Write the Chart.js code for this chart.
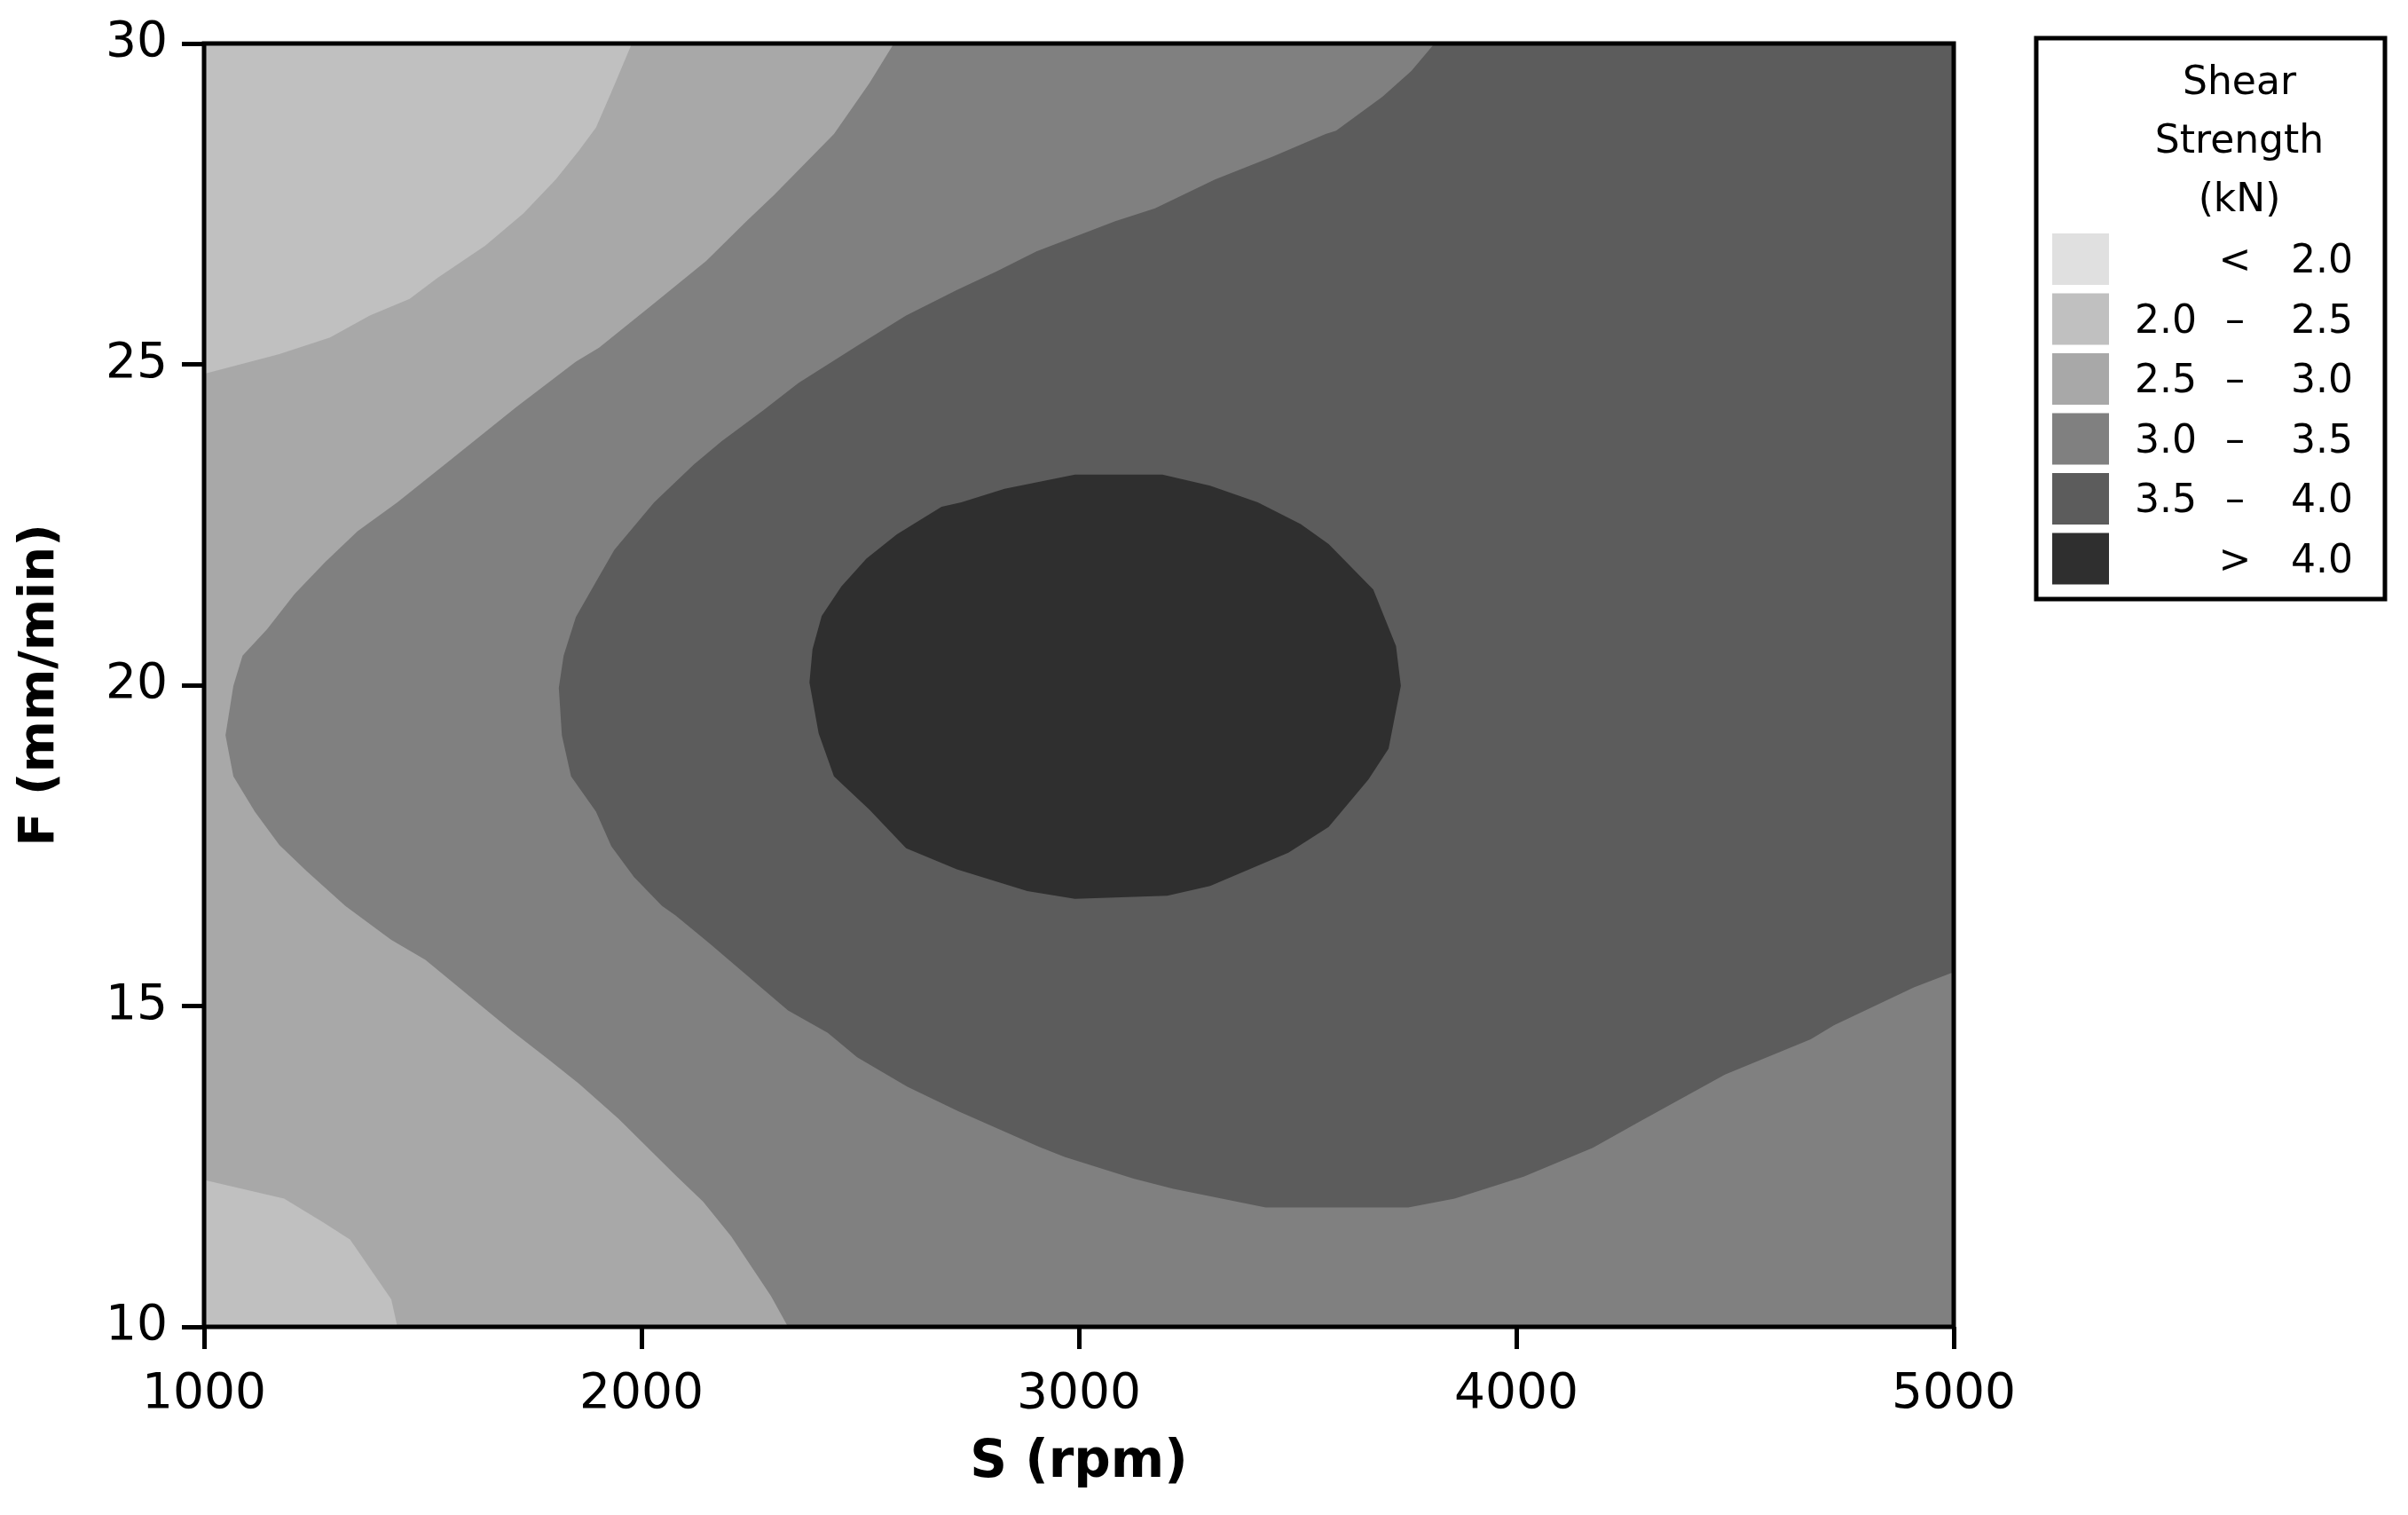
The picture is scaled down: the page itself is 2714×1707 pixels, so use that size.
<!DOCTYPE html>
<html>
<head>
<meta charset="utf-8">
<script src="https://cdn.jsdelivr.net/npm/chart.js@4.4.1/dist/chart.umd.min.js"></script>
<style>
  html, body { margin: 0; padding: 0; background: #fff; }
  #wrap { width: 2714px; height: 1707px; }
</style>
</head>
<body>
<div id="wrap"><canvas id="chart" width="2714" height="1707"></canvas></div>
<script>
// contour boundaries, as [S (rpm), F (mm/min)]
const plotArea = [[1000, 10], [5000, 10], [5000, 30], [1000, 30]];

// 2.0 - 2.5 patch, top left corner
const patchTopLeft = [
  [1000, 30], [1000, 24.85], [1172, 25.16], [1288, 25.42], [1379, 25.76],
  [1470, 26.02], [1534, 26.35], [1643, 26.85], [1730, 27.35], [1804, 27.88],
  [1857, 28.33], [1896, 28.69], [1931, 29.24], [1978, 30]
];

// 2.0 - 2.5 patch, bottom left corner
const patchBottomLeft = [
  [1000, 10], [1000, 12.29], [1183, 12.0], [1274, 11.62], [1334, 11.36],
  [1428, 10.43], [1442, 10]
];

// everything above 3.0
const above30 = [
  [2577, 30], [2521, 29.38], [2440, 28.59], [2303, 27.64], [2240, 27.23],
  [2148, 26.61], [2029, 25.95], [1903, 25.26], [1850, 25.04], [1713, 24.33],
  [1569, 23.54], [1442, 22.85], [1351, 22.40], [1277, 21.92], [1207, 21.42],
  [1144, 20.87], [1088, 20.46], [1067, 19.99], [1049, 19.22], [1067, 18.58],
  [1116, 18.03], [1172, 17.51], [1235, 17.10], [1323, 16.56], [1428, 16.03],
  [1506, 15.72], [1702, 14.62], [1787, 14.17], [1857, 13.79], [1948, 13.24],
  [2078, 12.36], [2141, 11.95], [2205, 11.41], [2296, 10.48], [2335, 10],
  [5000, 10], [5000, 30]
];

// everything above 3.5
const above35 = [
  [3813, 30], [3760, 29.57], [3694, 29.17], [3588, 28.64], [3564, 28.59],
  [3444, 28.24], [3311, 27.88], [3174, 27.43], [3083, 27.23], [2903, 26.76],
  [2812, 26.45], [2721, 26.16], [2605, 25.76], [2496, 25.30], [2359, 24.71],
  [2278, 24.28], [2183, 23.80], [2120, 23.44], [2029, 22.85], [1938, 22.11],
  [1896, 21.61], [1850, 21.06], [1822, 20.46], [1811, 19.96], [1818, 19.22],
  [1839, 18.58], [1896, 18.03], [1931, 17.49], [1983, 17.01], [2047, 16.56],
  [2078, 16.41], [2155, 15.98], [2335, 14.93], [2426, 14.58], [2493, 14.20],
  [2608, 13.74], [2724, 13.36], [2907, 12.81], [2967, 12.65], [3125, 12.31],
  [3216, 12.15], [3427, 11.86], [3753, 11.86], [3859, 12.00], [4017, 12.34],
  [4175, 12.79], [4280, 13.19], [4477, 13.93], [4673, 14.48], [4726, 14.70],
  [4909, 15.29], [5000, 15.53], [5000, 30]
];

// the > 4.0 island
const above40 = [
  [2991, 23.28], [3191, 23.28], [3300, 23.11], [3409, 22.85], [3507, 22.51],
  [3571, 22.20], [3673, 21.49], [3725, 20.61], [3736, 19.99], [3708, 19.01],
  [3662, 18.53], [3571, 17.79], [3479, 17.39], [3300, 16.87], [3202, 16.72],
  [2991, 16.67], [2882, 16.79], [2721, 17.13], [2605, 17.46], [2521, 18.06],
  [2440, 18.58], [2405, 19.25], [2384, 20.04], [2391, 20.56], [2412, 21.08],
  [2457, 21.54], [2514, 21.97], [2584, 22.35], [2686, 22.78], [2731, 22.85],
  [2830, 23.06]
];

const xTicks = [1000, 2000, 3000, 4000, 5000];
const yTicks = [10, 15, 20, 25, 30];

const legendTitle = ['Shear', 'Strength', '(kN)'];
const legendColors = ['#e0e0e0', '#c0c0c0', '#a8a8a8', '#808080', '#5c5c5c', '#2f2f2f'];
const legendFrom = ['', '2.0', '2.5', '3.0', '3.5', ''];
const legendSign = ['<', '\u2013', '\u2013', '\u2013', '\u2013', '>'];
const legendTo = ['2.0', '2.5', '3.0', '3.5', '4.0', '4.0'];

const FONT = '"DejaVu Sans", Verdana, sans-serif';

function region(points, color, order) {
  return {
    data: points.map(p => ({ x: p[0], y: p[1] })),
    showLine: true,
    fill: 'shape',
    backgroundColor: color,
    borderColor: color,
    borderWidth: 0,
    pointRadius: 0,
    tension: 0,
    order: order
  };
}

// black box round the plot area
const framePlugin = {
  id: 'frame',
  afterDraw(chart) {
    const { ctx, chartArea: a } = chart;
    ctx.save();
    ctx.strokeStyle = '#000';
    ctx.lineWidth = 5;
    ctx.strokeRect(a.left, a.top, a.right - a.left, a.bottom - a.top);
    ctx.restore();
  }
};

// boxed colour key on the right
const keyPlugin = {
  id: 'shearKey',
  afterDraw(chart) {
    const ctx = chart.ctx;
    const box = { x: 2295, y: 43, w: 393, h: 632 };
    ctx.save();
    ctx.strokeStyle = '#000';
    ctx.lineWidth = 5;
    ctx.strokeRect(box.x, box.y, box.w, box.h);

    ctx.fillStyle = '#000';
    ctx.font = '44px ' + FONT;
    ctx.textBaseline = 'middle';
    ctx.textAlign = 'center';
    legendTitle.forEach((t, i) => ctx.fillText(t, 2524, 95 + i * 66));

    legendColors.forEach((c, i) => {
      const cy = 292 + i * 67.5;
      ctx.fillStyle = c;
      ctx.fillRect(2313, cy - 29, 64, 58);
      ctx.fillStyle = '#000';
      ctx.textAlign = 'right';
      if (legendFrom[i]) ctx.fillText(legendFrom[i], 2476, cy + 4);
      ctx.fillText(legendTo[i], 2652, cy + 4);
      ctx.textAlign = 'center';
      ctx.fillText(legendSign[i], 2519, cy + 4);
    });
    ctx.restore();
  }
};

const tickGrid = {
  drawOnChartArea: false,
  drawTicks: true,
  tickLength: 25,
  tickWidth: 5,
  color: '#000'
};

new Chart(document.getElementById('chart'), {
  type: 'scatter',
  data: {
    datasets: [
      region(plotArea, '#a8a8a8', 6),
      region(patchTopLeft, '#c0c0c0', 5),
      region(patchBottomLeft, '#c0c0c0', 5),
      region(above30, '#808080', 4),
      region(above35, '#5c5c5c', 3),
      region(above40, '#2f2f2f', 2)
    ]
  },
  options: {
    responsive: false,
    animation: false,
    devicePixelRatio: 1,
    layout: { padding: { left: 0, right: 512, top: 43, bottom: 0 } },
    plugins: {
      legend: { display: false },
      tooltip: { enabled: false },
      filler: { drawTime: 'beforeDatasetDraw' }
    },
    scales: {
      x: {
        type: 'linear',
        min: 1000,
        max: 5000,
        afterFit: s => { s.height = 212; },
        afterBuildTicks: s => { s.ticks = xTicks.map(v => ({ value: v })); },
        grid: tickGrid,
        border: { display: false },
        ticks: {
          color: '#000',
          font: { family: FONT, size: 55 },
          padding: 19,
          maxRotation: 0,
          autoSkip: false,
          callback: v => String(v)
        },
        title: {
          display: true,
          text: 'S (rpm)',
          color: '#000',
          font: { family: FONT, size: 58, weight: 'bold' },
          padding: { top: 0, bottom: 23 }
        }
      },
      y: {
        type: 'linear',
        min: 10,
        max: 30,
        afterFit: s => { s.width = 230; },
        afterBuildTicks: s => { s.ticks = yTicks.map(v => ({ value: v })); },
        grid: tickGrid,
        border: { display: false },
        ticks: {
          color: '#000',
          font: { family: FONT, size: 55 },
          padding: 16,
          autoSkip: false,
          callback: v => String(v)
        },
        title: {
          display: true,
          text: 'F (mm/min)',
          color: '#000',
          font: { family: FONT, size: 56, weight: 'bold' },
          padding: { top: 12, bottom: 0 }
        }
      }
    }
  },
  plugins: [framePlugin, keyPlugin]
});
</script>
</body>
</html>
